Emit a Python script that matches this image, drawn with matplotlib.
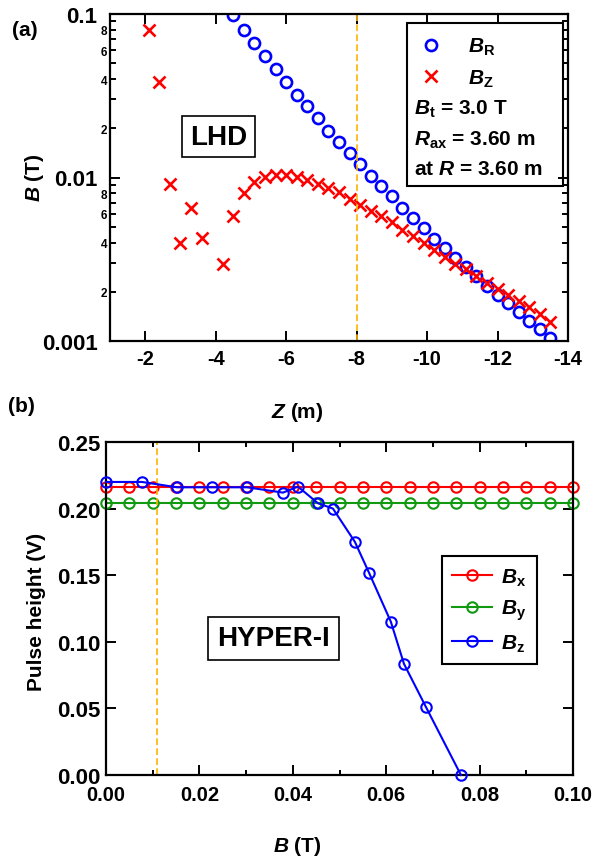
import numpy as np
import matplotlib
matplotlib.use("Agg")
import matplotlib.pyplot as plt
from matplotlib.ticker import FixedLocator, FuncFormatter, MultipleLocator
from matplotlib.patches import Rectangle

plt.rcParams['font.family'] = ['Liberation Sans', 'DejaVu Sans']
plt.rcParams['font.weight'] = 'bold'
plt.rcParams['mathtext.fontset'] = 'custom'
plt.rcParams['mathtext.rm'] = 'Liberation Sans:bold'
plt.rcParams['mathtext.it'] = 'Liberation Sans:italic:bold'
plt.rcParams['mathtext.bf'] = 'Liberation Sans:bold'
plt.rcParams['axes.linewidth'] = 1.6

# ---------------- Data: panel (a) LHD ----------------
z_br = [-4.5, -4.8, -5.1, -5.4, -5.7, -6.0, -6.3, -6.6, -6.9, -7.2, -7.5, -7.8,
        -8.1, -8.4, -8.7, -9.0, -9.3, -9.6, -9.9, -10.2, -10.5, -10.8, -11.1,
        -11.4, -11.7, -12.0, -12.3, -12.6, -12.9, -13.2, -13.5]
b_r = [0.0986, 0.0798, 0.0665, 0.0554, 0.0461, 0.0384, 0.0320, 0.0274, 0.0231,
       0.0192, 0.0165, 0.0141, 0.0121, 0.0102, 0.00887, 0.00770, 0.00651,
       0.00565, 0.00491, 0.00421, 0.00371, 0.00322, 0.00284, 0.00250, 0.00217,
       0.00191, 0.00171, 0.00150, 0.00132, 0.00118, 0.00104]

z_bz = [-2.1, -2.4, -2.7, -3.0, -3.3, -3.6, -4.2, -4.5, -4.8, -5.1, -5.4, -5.7,
        -6.0, -6.3, -6.6, -6.9, -7.2, -7.5, -7.8, -8.1, -8.4, -8.7, -9.0, -9.3,
        -9.6, -9.9, -10.2, -10.5, -10.8, -11.1, -11.4, -11.7, -12.0, -12.3,
        -12.6, -12.9, -13.2, -13.5]
b_z = [0.0798, 0.0384, 0.00912, 0.00397, 0.00650, 0.00427, 0.00296, 0.00582,
       0.00803, 0.00937, 0.01006, 0.01035, 0.01035, 0.01006, 0.00966, 0.00912,
       0.00863, 0.00815, 0.00739, 0.00680, 0.00624, 0.00582, 0.00535, 0.00478,
       0.00439, 0.00397, 0.00360, 0.00327, 0.00296, 0.00276, 0.00250, 0.00226,
       0.00208, 0.00191, 0.00176, 0.00161, 0.00146, 0.00131]
z_marker_line = -8.0

# ---------------- Data: panel (b) HYPER-I ----------------
b_xy = [0.000, 0.005, 0.010, 0.015, 0.020, 0.025, 0.030, 0.035, 0.040, 0.045,
        0.050, 0.055, 0.060, 0.065, 0.070, 0.075, 0.080, 0.085, 0.090, 0.095, 0.100]
pulse_bx = [0.216] * 21
pulse_by = [0.204] * 21
b_bz = [0.0, 0.0077, 0.0152, 0.0227, 0.0302, 0.0379, 0.0411, 0.0454, 0.0486,
        0.0533, 0.0563, 0.0610, 0.0638, 0.0685, 0.0760]
pulse_bz = [0.220, 0.220, 0.216, 0.216, 0.216, 0.212, 0.2165, 0.204, 0.200,
            0.175, 0.152, 0.115, 0.0835, 0.0511, 0.0]
b_marker_line = 0.011

BLUE = '#0000ff'
RED = '#ff0000'
GREEN = '#119911'
ORANGE = '#ffb300'

W, H = 598, 862
fig = plt.figure(figsize=(W / 100, H / 100), dpi=100)

def fx(px):
    return px / W

def fy(py):
    return 1 - py / H

# ---------------- Panel (a) ----------------
ax1 = fig.add_axes([fx(110), fy(342), fx(568) - fx(110), fy(15) - fy(342)])
ax1.set_yscale('log')
ax1.plot(z_br, b_r, linestyle='none', marker='o', ms=8, mfc='none', mec=BLUE,
         mew=1.9, label=r'$B_{\mathrm{R}}$')
ax1.plot(z_bz, b_z, linestyle='none', marker='x', ms=8, mec=RED, mew=1.9,
         label=r'$B_{\mathrm{Z}}$')
ax1.axvline(z_marker_line, color=ORANGE, ls='--', lw=1.2, dashes=(4, 2))
ax1.set_xlim(-1, -14)
ax1.set_ylim(0.001, 0.1)
ax1.xaxis.set_major_locator(FixedLocator([-2, -4, -6, -8, -10, -12, -14]))
ax1.xaxis.set_major_formatter(FuncFormatter(lambda v, p: '%d' % v))
ax1.yaxis.set_major_locator(FixedLocator([0.001, 0.01, 0.1]))
ax1.yaxis.set_major_formatter(FuncFormatter(lambda v, p: {0.001: '0.001', 0.01: '0.01', 0.1: '0.1'}.get(round(v, 4), '')))
minors = [m * 10.0 ** e for e in (-3, -2) for m in range(2, 10)]
ax1.yaxis.set_minor_locator(FixedLocator(minors))

def minor_fmt(v, p):
    e = np.floor(np.log10(v) + 1e-9)
    m = int(round(v / 10 ** e))
    return str(m) if m in (2, 4, 6, 8) else ''

ax1.yaxis.set_minor_formatter(FuncFormatter(minor_fmt))
ax1.tick_params(axis='both', which='both', direction='in', top=True, right=True, width=1.4)
ax1.tick_params(axis='x', which='major', length=7, labelsize=14.5, pad=6)
ax1.tick_params(axis='y', which='major', length=7, labelsize=16, pad=9)
ax1.tick_params(axis='y', which='minor', length=4, labelsize=8.5, pad=2)
for lab in ax1.get_xticklabels() + ax1.get_yticklabels() + ax1.get_yticklabels(minor=True):
    lab.set_fontweight('bold')

leg1 = ax1.legend(loc='upper left', bbox_to_anchor=(0.655, 0.958), frameon=False,
                  fontsize=15, handlelength=1.2, handletextpad=1.2, borderaxespad=0,
                  labelspacing=0.5)
ax1.add_patch(Rectangle((0.648, 0.474), 0.341, 0.498, transform=ax1.transAxes,
                        fill=False, ec='black', lw=1.5, zorder=5))
ax1.text(0.663, 0.712, r'$B_{\mathrm{t}}$ = 3.0 T', transform=ax1.transAxes,
         fontsize=15, fontweight='bold', va='center', ha='left')
ax1.text(0.663, 0.617, r'$R_{\mathrm{ax}}$ = 3.60 m', transform=ax1.transAxes,
         fontsize=15, fontweight='bold', va='center', ha='left')
ax1.text(0.663, 0.527, r'at $R$ = 3.60 m', transform=ax1.transAxes,
         fontsize=15, fontweight='bold', va='center', ha='left')
ax1.text(0.237, 0.625, 'LHD', transform=ax1.transAxes, fontsize=20,
         fontweight='bold', ha='center', va='center',
         bbox=dict(boxstyle='square,pad=0.28', fc='white', ec='black', lw=1.2))

fig.text(fx(35), fy(178), r'$B$ (T)', rotation=90, fontsize=15, fontweight='bold',
         ha='center', va='center')
fig.text(fx(297), fy(412), r'$Z$ (m)', fontsize=15, fontweight='bold',
         ha='center', va='center')
fig.text(fx(25), fy(31), '(a)', fontsize=15, fontweight='bold', ha='center', va='center')
fig.text(fx(21), fy(407), '(b)', fontsize=15, fontweight='bold', ha='center', va='center')

# ---------------- Panel (b) ----------------
ax2 = fig.add_axes([fx(106), fy(776), fx(573) - fx(106), fy(443) - fy(776)])
ax2.plot(b_xy, pulse_bx, color=RED, lw=1.5, marker='o', ms=7.5, mfc='none', mew=1.5,
         label=r'$B_{\mathrm{x}}$', clip_on=False)
ax2.plot(b_xy, pulse_by, color=GREEN, lw=1.5, marker='o', ms=7.5, mfc='none', mew=1.5,
         label=r'$B_{\mathrm{y}}$', clip_on=False)
ax2.plot(b_bz, pulse_bz, color=BLUE, lw=1.5, marker='o', ms=7.5, mfc='none', mew=1.5,
         label=r'$B_{\mathrm{z}}$', clip_on=False, zorder=4)
ax2.axvline(b_marker_line, color=ORANGE, ls='--', lw=1.2, dashes=(4, 2))
ax2.set_xlim(0, 0.1)
ax2.set_ylim(0, 0.25)
ax2.xaxis.set_major_locator(MultipleLocator(0.02))
ax2.xaxis.set_minor_locator(MultipleLocator(0.01))
ax2.yaxis.set_major_locator(MultipleLocator(0.05))
ax2.xaxis.set_major_formatter(FuncFormatter(lambda v, p: '%.2f' % v))
ax2.yaxis.set_major_formatter(FuncFormatter(lambda v, p: '%.2f' % v))
ax2.tick_params(axis='both', which='both', direction='in', top=True, right=True, width=1.4)
ax2.tick_params(axis='both', which='major', length=7)
ax2.tick_params(axis='both', which='minor', length=3.5)
ax2.tick_params(axis='x', which='major', labelsize=14.5, pad=7)
ax2.tick_params(axis='y', which='major', labelsize=16, pad=4)
for lab in ax2.get_xticklabels() + ax2.get_yticklabels():
    lab.set_fontweight('bold')

leg2 = ax2.legend(loc='upper left', bbox_to_anchor=(0.7195, 0.6577), fontsize=15,
                  frameon=True, fancybox=False, edgecolor='black', framealpha=1,
                  handlelength=1.9, handletextpad=0.45, borderaxespad=0,
                  labelspacing=0.48, borderpad=0.5)
leg2.get_frame().set_linewidth(1.5)
ax2.text(0.359, 0.41, 'HYPER-I', transform=ax2.transAxes, fontsize=20,
         fontweight='bold', ha='center', va='center',
         bbox=dict(boxstyle='square,pad=0.32', fc='white', ec='black', lw=1.2))

fig.text(fx(37), fy(612), 'Pulse height (V)', rotation=90, fontsize=15,
         fontweight='bold', ha='center', va='center')
fig.text(fx(297), fy(847), r'$B$ (T)', fontsize=15, fontweight='bold',
         ha='center', va='center')

fig.savefig('out.png', dpi=100)
